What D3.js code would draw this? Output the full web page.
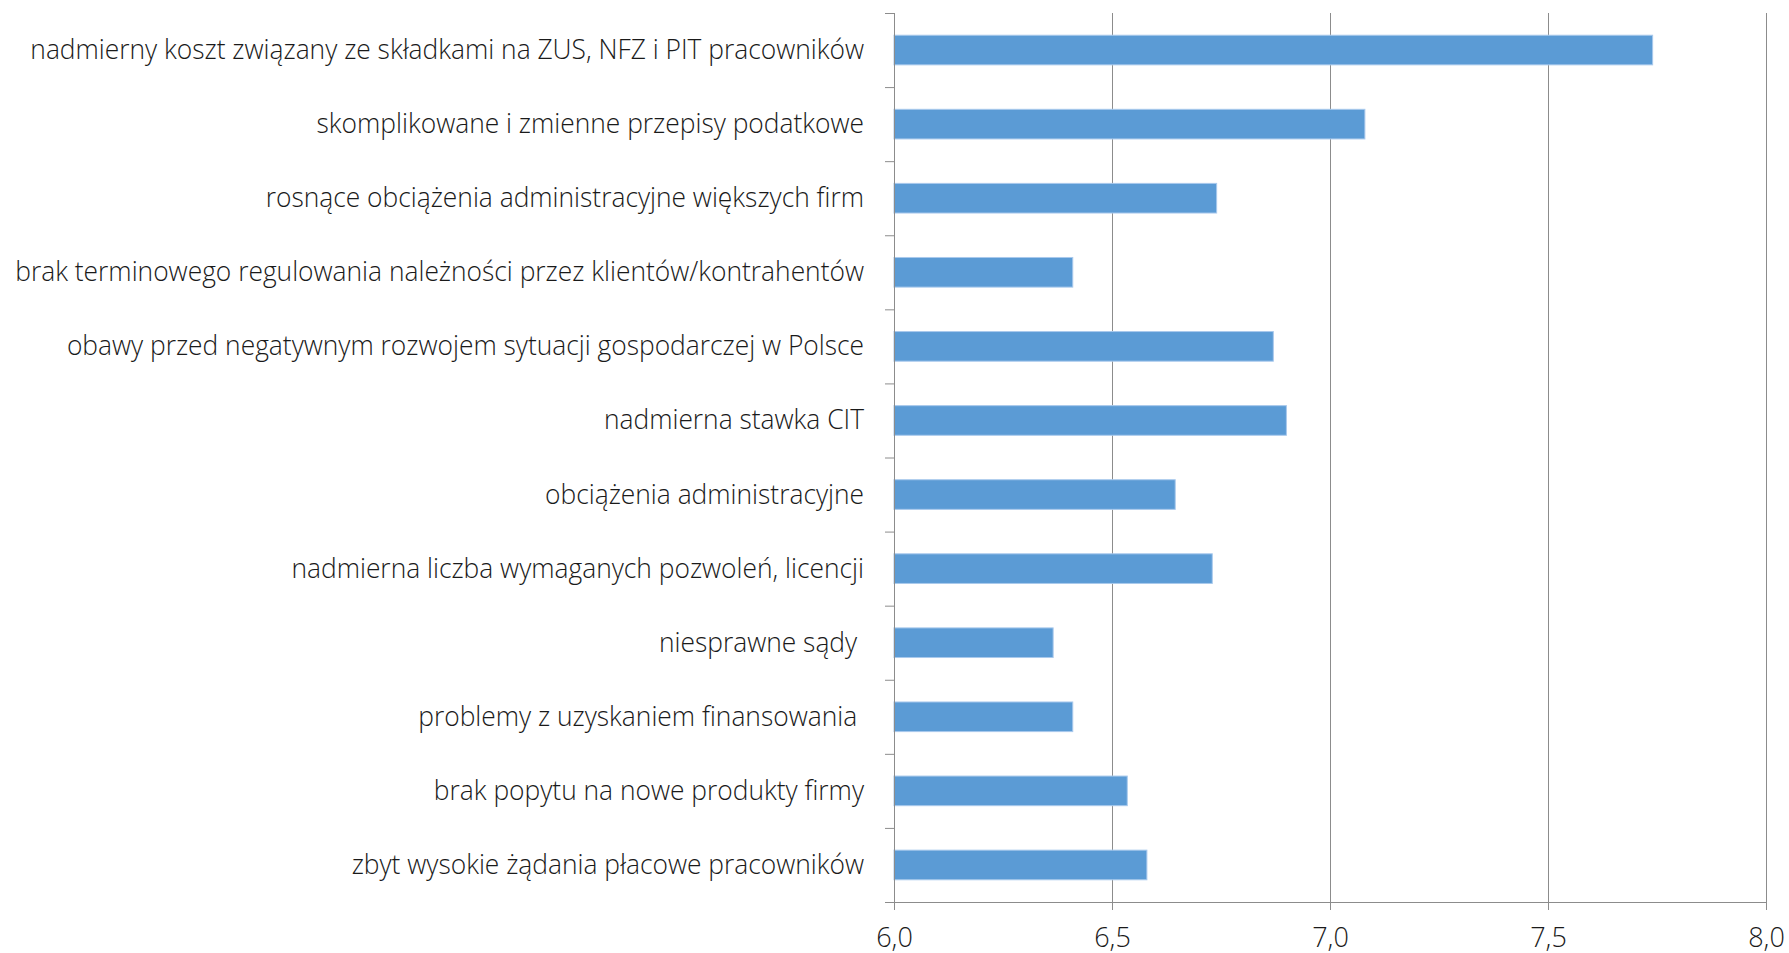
<html>
<head><meta charset="utf-8"></head>
<script src="https://d3js.org/d3.v7.min.js"></script>
<style>
body { margin: 0; background: #ffffff; }
svg text { font-family: "Open Sans", sans-serif; font-weight: 300; fill: #1a1a1a; white-space: pre; }
</style>
<body>
<svg width="1789" height="953"></svg>
<script>
// categories, top to bottom
var categories = [
  "nadmierny koszt związany ze składkami na ZUS, NFZ i PIT pracowników",
  "skomplikowane i zmienne przepisy podatkowe",
  "rosnące obciążenia administracyjne większych firm",
  "brak terminowego regulowania należności przez klientów/kontrahentów",
  "obawy przed negatywnym rozwojem sytuacji gospodarczej w Polsce",
  "nadmierna stawka CIT",
  "obciążenia administracyjne",
  "nadmierna liczba wymaganych pozwoleń, licencji",
  "niesprawne sądy ",
  "problemy z uzyskaniem finansowania ",
  "brak popytu na nowe produkty firmy",
  "zbyt wysokie żądania płacowe pracowników"
];
var values = [7.74, 7.08, 6.74, 6.41, 6.87, 6.90, 6.645, 6.73, 6.365, 6.41, 6.535, 6.58];
var ticks = [6.0, 6.5, 7.0, 7.5, 8.0];

var svg = d3.select("svg");
var plotLeft = 894, plotRight = 1766, plotTop = 13, plotBottom = 902;

var x = d3.scaleLinear().domain([6, 8]).range([plotLeft, plotRight]);
var y = d3.scaleBand().domain(categories).range([plotTop, plotBottom])
    .paddingInner(0.6).paddingOuter(0.3);

// gridlines
svg.append("g").selectAll("line")
  .data(ticks.slice(1))
  .enter().append("line")
    .attr("x1", d => x(d) + 0.5).attr("x2", d => x(d) + 0.5)
    .attr("y1", plotTop).attr("y2", plotBottom + 8)
    .style("stroke", "#8c8c8c").style("stroke-width", 1);

// bars
svg.append("g").selectAll("rect")
  .data(values)
  .enter().append("rect")
    .attr("x", x(6))
    .attr("y", (d, i) => y(categories[i]))
    .attr("width", d => x(d) - x(6))
    .attr("height", y.bandwidth())
    .style("fill", "#5b9bd5")
    .style("stroke", "#a9c9ec").style("stroke-width", 1);

// category axis
var yAxis = svg.append("g")
  .attr("transform", "translate(" + plotLeft + ",0)")
  .call(d3.axisLeft(y).tickSize(0).tickPadding(30));
yAxis.select(".domain").remove();
var labels = yAxis.selectAll("text")
  .style("font-size", "28px")
  .style("font-family", "'Open Sans', sans-serif");

// squeeze labels horizontally, the original font is a narrow one
var longest = d3.max(labels.nodes(), n => n.getComputedTextLength());
var k = 849 / longest;
labels.attr("x", -30 / k).attr("transform", "scale(" + k + ",1)");

// category separators
var seps = d3.range(categories.length + 1).map(i => plotTop + i * y.step());
svg.append("g").selectAll("line")
  .data(seps)
  .enter().append("line")
    .attr("x1", plotLeft - 9).attr("x2", plotLeft)
    .attr("y1", d => d + 0.5).attr("y2", d => d + 0.5)
    .style("stroke", "#8c8c8c");
svg.append("line")
  .attr("x1", plotLeft + 0.5).attr("x2", plotLeft + 0.5)
  .attr("y1", plotTop).attr("y2", plotBottom + 8)
  .style("stroke", "#8c8c8c");

// value axis
var xAxis = svg.append("g")
  .attr("transform", "translate(0," + plotBottom + ")")
  .call(d3.axisBottom(x).tickValues(ticks).tickSize(8).tickPadding(18)
        .tickFormat(d => d3.format(".1f")(d).replace(".", ",")));
xAxis.select(".domain").attr("d", "M" + plotLeft + ",0.5H" + plotRight).style("stroke", "#8c8c8c");
xAxis.selectAll("line").style("stroke", "#8c8c8c");
xAxis.selectAll("text")
  .style("font-size", "27px")
  .style("font-family", "'Open Sans', sans-serif");
</script>
</body>
</html>
